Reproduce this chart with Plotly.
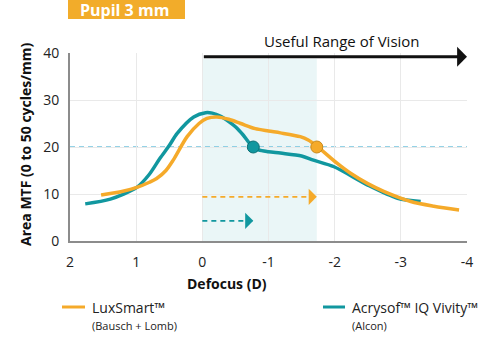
import plotly.graph_objects as go

# ---------------- data ----------------
lux_x = [1.53, 1.2, 0.99, 0.8, 0.69, 0.55, 0.44, 0.23, 0.05, -0.07, -0.22, -0.4, -0.58,
         -0.8, -1.0, -1.18, -1.48, -1.6, -1.73, -2.04, -2.24, -2.5, -2.75, -3.15, -3.5, -3.88]
lux_y = [9.8, 10.6, 11.4, 12.5, 13.3, 15.0, 17.2, 22.2, 25.0, 26.1, 26.4, 25.9, 25.0,
         23.9, 23.4, 23.0, 22.2, 21.5, 20.2, 16.5, 14.4, 12.2, 10.5, 8.4, 7.4, 6.6]

viv_x = [1.77, 1.39, 0.99, 0.8, 0.64, 0.5, 0.38, 0.13, -0.05, -0.15, -0.27, -0.4, -0.5,
         -0.62, -0.75, -0.85, -1.0, -1.18, -1.5, -1.68, -1.99, -2.5, -2.95, -3.3]
viv_y = [7.9, 8.9, 11.4, 14.2, 17.6, 20.3, 22.9, 26.4, 27.3, 27.2, 26.6, 25.4, 24.3,
         22.5, 20.2, 19.4, 19.0, 18.7, 18.1, 17.2, 15.8, 11.9, 9.1, 8.4]

threshold = 20
range_start = 0
lux_range_end = -1.73
viv_range_end = -0.77
lux_arrow_y = 9.4
viv_arrow_y = 4.3
useful_start = 0
useful_end = -4
useful_y = 39.2

x_ticks = [2, 1, 0, -1, -2, -3, -4]
x_tick_text = ["2", "1", "0", "-1", "-2", "-3", "-4"]
y_ticks = [0, 10, 20, 30, 40]

ORANGE = "#F5AA2A"
TEAL = "#11979F"
DASHBLUE = "#72C4DE"
FONT = "Open Sans"

# plot area in pixels
L, R, T, B = 70, 467, 53, 241
def px(xp):
    return (xp - L) / (R - L)
def py(yp):
    return (B - yp) / (B - T)

fig = go.Figure()

# dashed range arrows (shafts)
fig.add_trace(go.Scatter(x=[range_start, lux_range_end], y=[lux_arrow_y, lux_arrow_y], mode="lines",
                         line=dict(color=ORANGE, width=1.8, dash="5px,4px"), hoverinfo="skip"))
fig.add_trace(go.Scatter(x=[range_start, viv_range_end], y=[viv_arrow_y, viv_arrow_y], mode="lines",
                         line=dict(color=TEAL, width=1.8, dash="5px,4px"), hoverinfo="skip"))

# curves
fig.add_trace(go.Scatter(x=viv_x, y=viv_y, mode="lines", line=dict(color=TEAL, width=3.5, shape="spline", smoothing=0.8),
                         name="Acrysof™ IQ Vivity™"))
fig.add_trace(go.Scatter(x=lux_x, y=lux_y, mode="lines", line=dict(color=ORANGE, width=3.5, shape="spline", smoothing=0.8),
                         name="LuxSmart™"))

# threshold markers
fig.add_trace(go.Scatter(x=[viv_range_end], y=[threshold], mode="markers",
                         marker=dict(size=12, color=TEAL, line=dict(color="#0b6f75", width=1)), hoverinfo="skip"))
fig.add_trace(go.Scatter(x=[lux_range_end], y=[threshold], mode="markers",
                         marker=dict(size=12, color=ORANGE, line=dict(color="#c98a1c", width=1)), hoverinfo="skip"))

shapes = [
    dict(type="rect", xref="x", yref="y", x0=range_start, x1=lux_range_end, y0=0, y1=38.8,
         fillcolor="#EAF6F7", line=dict(width=0), layer="below"),
    dict(type="line", xref="x", yref="y", x0=2, x1=-4, y0=threshold, y1=threshold,
         line=dict(color=DASHBLUE, width=1.3, dash="5px,4px"), layer="below"),
    # title box
    dict(type="rect", xref="paper", yref="paper", x0=px(68), x1=px(185), y0=py(0), y1=py(19),
         fillcolor="#F2AC2A", line=dict(width=0)),
    # legend lines
    dict(type="line", xref="paper", yref="paper", x0=px(62), x1=px(85), y0=py(307), y1=py(307),
         line=dict(color=ORANGE, width=3)),
    dict(type="line", xref="paper", yref="paper", x0=px(323), x1=px(345), y0=py(307), y1=py(307),
         line=dict(color=TEAL, width=3)),
]

annotations = [
    # arrows
    dict(x=useful_end, y=useful_y, ax=useful_start, ay=useful_y, xref="x", yref="y", axref="x", ayref="y",
         showarrow=True, arrowhead=1, arrowsize=1.1, arrowwidth=3, arrowcolor="#111111", text=""),
    dict(x=lux_range_end, y=lux_arrow_y, ax=lux_range_end + 0.12, ay=lux_arrow_y, xref="x", yref="y",
         axref="x", ayref="y", showarrow=True, arrowhead=1, arrowsize=1.5, arrowwidth=1.8,
         arrowcolor=ORANGE, text=""),
    dict(x=viv_range_end, y=viv_arrow_y, ax=viv_range_end + 0.12, ay=viv_arrow_y, xref="x", yref="y",
         axref="x", ayref="y", showarrow=True, arrowhead=1, arrowsize=1.5, arrowwidth=1.8,
         arrowcolor=TEAL, text=""),
    # texts
    dict(text="<b>Pupil 3 mm</b>", xref="paper", yref="paper", x=px(124), y=py(10), showarrow=False,
         font=dict(family=FONT, size=16, color="white"), xanchor="center", yanchor="middle"),
    dict(text="Useful Range of Vision", xref="paper", yref="paper", x=px(342), y=py(41), showarrow=False,
         font=dict(family=FONT, size=15, color="#111111"), xanchor="center", yanchor="middle"),
    dict(text="<b>Area MTF (0 to 50 cycles/mm)</b>", xref="paper", yref="paper", x=px(25), y=py(144),
         showarrow=False, textangle=-90, font=dict(family=FONT, size=14, color="#111111"),
         xanchor="center", yanchor="middle"),
    dict(text="<b>Defocus (D)</b>", xref="paper", yref="paper", x=px(227), y=py(283), showarrow=False,
         font=dict(family=FONT, size=14, color="#111111"), xanchor="center", yanchor="middle"),
    dict(text="LuxSmart™", xref="paper", yref="paper", x=px(90), y=py(307), showarrow=False,
         font=dict(family=FONT, size=14, color="#222222"), xanchor="left", yanchor="middle"),
    dict(text="(Bausch + Lomb)", xref="paper", yref="paper", x=px(90), y=py(325), showarrow=False,
         font=dict(family=FONT, size=11, color="#222222"), xanchor="left", yanchor="middle"),
    dict(text="Acrysof™ IQ Vivity™", xref="paper", yref="paper", x=px(350), y=py(307), showarrow=False,
         font=dict(family=FONT, size=14, color="#222222"), xanchor="left", yanchor="middle"),
    dict(text="(Alcon)", xref="paper", yref="paper", x=px(350), y=py(325), showarrow=False,
         font=dict(family=FONT, size=11, color="#222222"), xanchor="left", yanchor="middle"),
]

fig.update_layout(
    width=500, height=354,
    margin=dict(l=L, r=500 - R, t=T, b=354 - B),
    paper_bgcolor="white", plot_bgcolor="white",
    showlegend=False,
    shapes=shapes, annotations=annotations,
    font=dict(family=FONT, size=13, color="#222222"),
    xaxis=dict(range=[2, -4], tickvals=x_ticks, ticktext=x_tick_text, showgrid=True,
               gridcolor="#E9E9E9", gridwidth=1, showline=True, linecolor="#8C8C8C", linewidth=2,
               zeroline=False, ticks="", ticklabelstandoff=7, tickfont=dict(size=14, color="#222222")),
    yaxis=dict(range=[0, 40], tickvals=y_ticks, showgrid=True, gridcolor="#E9E9E9", gridwidth=1,
               showline=True, linecolor="#8C8C8C", linewidth=2, zeroline=False, ticks="",
               ticklabelstandoff=6, tickfont=dict(size=14, color="#222222")),
)

fig.write_html("out.html")
